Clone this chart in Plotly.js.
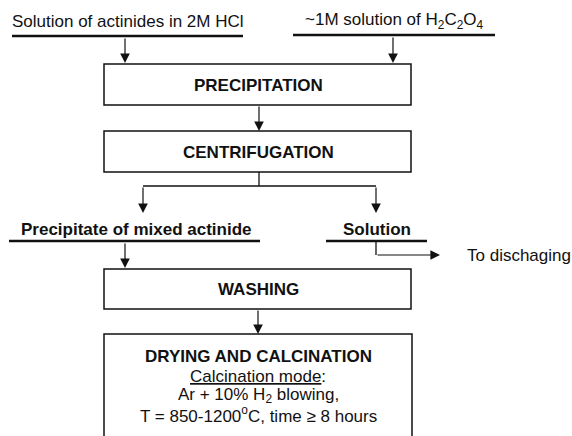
<!DOCTYPE html>
<html><head><meta charset="utf-8">
<script src="https://cdn.plot.ly/plotly-3.0.1.min.js"></script>
<style>html,body{margin:0;padding:0;background:#fff}</style>
</head><body>
<div id="chart" style="width:572px;height:436px"></div>
<script>
// Flowchart content
var inputLabels = ["Solution of actinides in 2M HCl", "~1M solution of H<sub>2</sub>C<sub>2</sub>O<sub>4</sub>"];
var stepLabels = ["PRECIPITATION", "CENTRIFUGATION", "WASHING"];
var splitLabels = ["Precipitate of mixed actinide", "Solution"];
var outLabel = "To dischaging";
var finalLines = ["<b>DRYING AND CALCINATION</b>", "<u>Calcination mode</u>:", "Ar + 10% H<sub>2</sub> blowing,", "T = 850-1200<sup>o</sup>C, time \u2265 8 hours"];

var FONT = "Liberation Sans, Arial, sans-serif";
var INK = "#111";
var FS = 17;
var shapes = [], ann = [];

function line(x0,y0,x1,y1,w){shapes.push({type:'line',xref:'x',yref:'y',x0:x0,y0:y0,x1:x1,y1:y1,line:{color:INK,width:w||1.3}});}
function rect(x0,y0,x1,y1){shapes.push({type:'rect',xref:'x',yref:'y',x0:x0,y0:y0,x1:x1,y1:y1,line:{color:INK,width:1.5}});}
function arrow(x0,y0,x1,y1){ann.push({x:x1,y:y1,ax:x0,ay:y0,xref:'x',yref:'y',axref:'x',ayref:'y',text:'',showarrow:true,arrowhead:2,arrowsize:1.6,arrowwidth:1.2,arrowcolor:INK});}
function txt(x,y,t,size,anchor,bold,h){var a={x:x,y:y,xref:'x',yref:'y',text:bold?('<b>'+t+'</b>'):t,showarrow:false,xanchor:anchor||'center',yanchor:'middle',font:{family:FONT,size:size||FS,color:INK}};if(h){a.height=h;a.borderpad=0;}ann.push(a);}

// inputs
line(12,36,243,36,2.5); txt(128,21,inputLabels[0],FS);
line(293,35,495,35,2.5); txt(394,21,inputLabels[1],FS);
arrow(125,37,125,63); arrow(393,36,393,63);
// precipitation
rect(104,64,411,105); txt(258,85,stepLabels[0],FS,'center',true);
arrow(259,105,259,131);
// centrifugation
rect(104,131,411,172); txt(258,152,stepLabels[1],FS,'center',true);
line(259,172,259,186); line(143,186,376,186);
arrow(143,186,143,213); arrow(376,186,376,213);
// split
txt(136,229,splitLabels[0],FS,'center',true); line(9,241,260,241,2.5);
txt(377,229,splitLabels[1],FS,'center',true); line(326,241,427,241,2.5);
arrow(125,242,125,268);
line(376,241,376,255); arrow(376,255,440,255);
txt(465,255,outLabel,FS,'left');
// washing
rect(104,269,411,309); txt(258,289,stepLabels[2],FS,'center',true);
arrow(258,309,258,334);
// drying
rect(104,334,412,446);
var fy=[356,376,395,414];
for(var i=0;i<finalLines.length;i++) txt(258,fy[i],finalLines[i],FS,'center',false,19);

Plotly.newPlot('chart',[],{
  width:572,height:436,margin:{l:0,r:0,t:0,b:0},
  paper_bgcolor:'#fff',plot_bgcolor:'#fff',showlegend:false,
  xaxis:{range:[0,572],visible:false,fixedrange:true},
  yaxis:{range:[436,0],visible:false,fixedrange:true},
  shapes:shapes,annotations:ann
},{staticPlot:true});
</script>
</body></html>
